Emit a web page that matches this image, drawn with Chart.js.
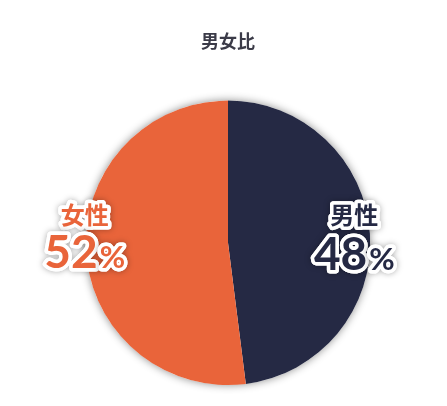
<!DOCTYPE html>
<html>
<head>
<meta charset="utf-8">
<script src="https://cdn.jsdelivr.net/npm/chart.js@4"></script>
<style>
  html, body { margin: 0; padding: 0; background: #fff; }
  #wrap { width: 447px; height: 406px; }
</style>
</head>
<body>
<div id="wrap"><canvas id="ratioChart"></canvas></div>
<script>
const labels = ['男性', '女性'];
const values = [48, 52];
const colors = ['#252944', '#e9643a'];

const JP = '"Noto Sans CJK JP", "Noto Sans", sans-serif';
const NUM = 'Lato, "Noto Sans", sans-serif';

// soft shadow under the whole pie
const pieShadow = {
  id: 'pieShadow',
  beforeDatasetsDraw(chart) {
    const arc = chart.getDatasetMeta(0).data[0];
    if (!arc) return;
    const ctx = chart.ctx;
    ctx.save();
    ctx.shadowColor = 'rgba(0,0,0,0.45)';
    ctx.shadowBlur = 9;
    ctx.fillStyle = '#fff';
    ctx.beginPath();
    ctx.arc(arc.x, arc.y, arc.outerRadius, 0, Math.PI * 2);
    ctx.fill();
    ctx.restore();
  }
};

// outlined labels sitting on the rim
const rimLabels = {
  id: 'rimLabels',
  afterDatasetsDraw(chart, args, opts) {
    const ctx = chart.ctx;
    const meta = chart.getDatasetMeta(0);
    const total = values.reduce((a, b) => a + b, 0);
    meta.data.forEach((arc, i) => {
      const mid = (arc.startAngle + arc.endAngle) / 2;
      const x = arc.x + Math.cos(mid) * arc.outerRadius * opts.radius[i];
      const y = arc.y;
      const pct = Math.round(values[i] / total * 100);

      const draw = (text, font, tx, ty, align) => {
        ctx.font = font;
        ctx.textAlign = align;
        ctx.textBaseline = 'alphabetic';
        ctx.lineJoin = 'round';
        ctx.save();
        ctx.shadowColor = 'rgba(0,0,0,0.35)';
        ctx.shadowBlur = 6;
        ctx.lineWidth = 7;
        ctx.strokeStyle = '#fff';
        ctx.strokeText(text, tx, ty);
        ctx.restore();
        ctx.lineWidth = 7;
        ctx.strokeStyle = '#fff';
        ctx.strokeText(text, tx, ty);
        ctx.fillStyle = colors[i];
        ctx.fillText(text, tx, ty);
      };

      ctx.save();
      draw(labels[i], 'bold 24px ' + JP, x, y - 19, 'center');

      const numFont = 'bold 46px ' + NUM;
      const pctFont = 'bold 31px ' + NUM;
      ctx.font = numFont;
      const wNum = ctx.measureText(String(pct)).width;
      ctx.font = pctFont;
      const wPct = ctx.measureText('%').width;
      const left = x - (wNum + wPct + 2) / 2;
      const base = y + 26 + opts.dy[i];
      draw(String(pct), numFont, left, base, 'left');
      draw('%', pctFont, left + wNum + 2, base, 'left');
      ctx.restore();
    });
  }
};

new Chart(document.getElementById('ratioChart'), {
  type: 'pie',
  data: {
    labels: labels,
    datasets: [{
      data: values,
      backgroundColor: colors,
      borderWidth: 0,
      hoverOffset: 0
    }]
  },
  options: {
    responsive: true,
    maintainAspectRatio: false,
    animation: false,
    layout: { padding: { top: 0, bottom: 21, left: 9, right: 0 } },
    plugins: {
      legend: { display: false },
      tooltip: { enabled: false },
      title: {
        display: true,
        text: '男女比',
        color: '#3b3b48',
        font: { family: JP, size: 18, weight: 'bold' },
        padding: { top: 30, bottom: 49 }
      },
      rimLabels: { radius: [0.89, 1.01], dy: [1, -1] }
    }
  },
  plugins: [pieShadow, rimLabels]
});
</script>
</body>
</html>
